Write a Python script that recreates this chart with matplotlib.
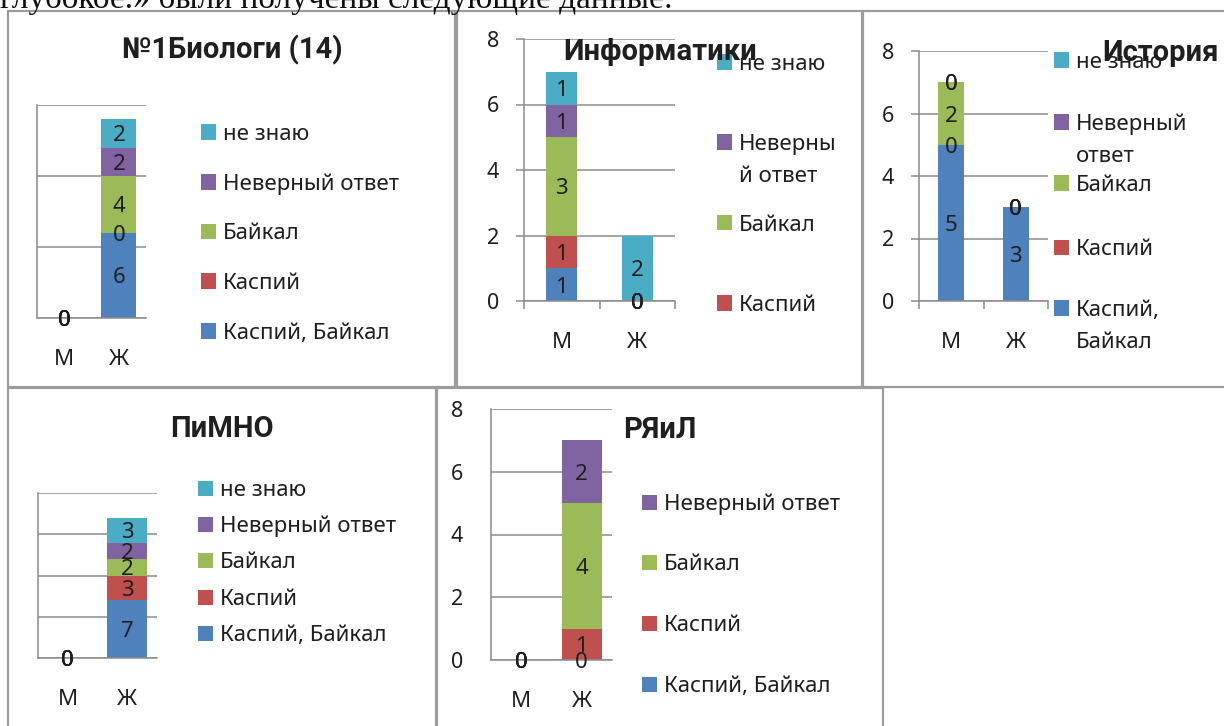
import matplotlib
matplotlib.use("Agg")
import matplotlib.pyplot as plt
from matplotlib.patches import Rectangle
import numpy as np

plt.rcParams['font.family'] = ['Noto Sans', 'DejaVu Sans']

# ---------------- data ----------------
categories = ['М', 'Ж']
series_names = ['Каспий, Байкал', 'Каспий', 'Байкал', 'Неверный ответ', 'не знаю']
series_colors = ['#4F81BD', '#C0504D', '#9BBB59', '#8064A2', '#4BACC6']

bio_values = [[0, 6], [0, 0], [0, 4], [0, 2], [0, 2]]
inf_values = [[1, 0], [1, 0], [3, 0], [1, 0], [1, 2]]
hist_values = [[5, 3], [0, 0], [2, 0], [0, 0], [0, 0]]
pimno_values = [[0, 7], [0, 3], [0, 2], [0, 2], [0, 3]]
ryal_values = [[0, 0], [0, 1], [0, 4], [0, 2]]

titles = ['№1Биологи (14)', 'Информатики', 'История', 'ПиМНО', 'РЯиЛ']
y_ticks_8 = [0, 2, 4, 6, 8]

top_line = 'глубокое.» были получены следующие данные:'

# ---------------- layout helpers ----------------
W, H = 1224, 726
fig = plt.figure(figsize=(W / 100, H / 100), dpi=100)
fig.patch.set_facecolor('white')

TXT = '#1F1F1F'
GRID = '#8C8C8C'
BORDER = '#9C9C9C'
TITLE_FONT = ['Roboto', 'Liberation Sans', 'DejaVu Sans']


def fx(x):
    return x / W


def fy(y):
    return 1 - y / H


def add_axes_px(l, t, r, b):
    return fig.add_axes([l / W, 1 - b / H, (r - l) / W, (b - t) / H])


def border(l, t, r, b):
    fig.patches.append(Rectangle((fx(l), fy(b)), (r - l) / W, (b - t) / H,
                                 transform=fig.transFigure, fill=False,
                                 edgecolor=BORDER, lw=1.6, zorder=0))


def title(x, y, s):
    fig.text(fx(x), fy(y), s, ha='center', va='center', fontsize=21,
             fontweight='bold', family=TITLE_FONT, color=TXT, zorder=7)


def legend_entry(x, y, color, lines, line_gap=32, fs=16):
    fig.patches.append(Rectangle((fx(x), fy(y + 7.5)), 15 / W, 15 / H,
                                 transform=fig.transFigure, facecolor=color,
                                 edgecolor='none', zorder=5))
    for k, s in enumerate(lines):
        fig.text(fx(x + 22), fy(y + k * line_gap), s, ha='left',
                 va='center_baseline', fontsize=fs, color=TXT, zorder=6)


def panel(rect, values, ymax, yticks, width, show_ylabels=False,
          tick_marks=False, ylabel_pad=13):
    ax = add_axes_px(*rect)
    x = np.arange(len(categories))
    bottoms = np.zeros(len(categories))
    for i, vals in enumerate(values):
        vals = np.array(vals, dtype=float)
        ax.bar(x, vals, width, bottom=bottoms, color=series_colors[i],
               edgecolor='none', zorder=2)
        for j in range(len(x)):
            ax.text(x[j], bottoms[j] + vals[j] / 2, f'{int(vals[j])}',
                    ha='center', va='center_baseline', fontsize=16, color=TXT,
                    zorder=4, clip_on=False)
        bottoms = bottoms + vals
    ax.set_xlim(-0.5, 1.5)
    ax.set_ylim(0, ymax)
    ax.set_yticks(yticks)
    ax.grid(axis='y', color=GRID, lw=1.1)
    ax.set_axisbelow(True)
    for s in ['top', 'right']:
        ax.spines[s].set_visible(False)
    ax.spines['left'].set_color(GRID)
    ax.spines['left'].set_linewidth(1.1)
    ax.spines['bottom'].set_color(GRID)
    ax.spines['bottom'].set_linewidth(1.1)
    ax.set_xticks(x, categories)
    ax.tick_params(axis='x', length=0, pad=22, labelsize=16, labelcolor=TXT)
    if tick_marks:
        ax.set_xticks([-0.5, 0.5, 1.5], minor=True)
        ax.tick_params(axis='x', which='minor', length=6, width=1.1,
                       color=GRID, direction='out')
        ax.tick_params(axis='y', length=6, width=1.1, color=GRID,
                       direction='out')
    else:
        ax.tick_params(axis='y', length=0)
    if show_ylabels:
        ax.tick_params(axis='y', labelsize=15.5, labelcolor=TXT, pad=ylabel_pad)
    else:
        ax.tick_params(axis='y', labelleft=False)
    ax.patch.set_alpha(0)
    return ax


# ---------------- top text line ----------------
fig.text(fx(0), fy(8), top_line, ha='left', va='baseline', fontsize=24,
         family=['Liberation Serif', 'DejaVu Serif'], color='#111111')

# ---------------- panel borders ----------------
border(8, 11, 455, 387)
border(457, 11, 862, 387)
border(863, 11, 1240, 387)
border(8, 388, 436, 740)
border(437, 388, 883, 740)

# ---------------- panel 1: Биологи ----------------
panel((37, 105, 146, 318), bio_values, 15, [0, 5, 10, 15], 0.64)
title(232, 50, titles[0])
leg1 = [(4, ['не знаю']), (3, ['Неверный ответ']), (2, ['Байкал']),
        (1, ['Каспий']), (0, ['Каспий, Байкал'])]
for (idx, lines), yy in zip(leg1, [132, 182, 231, 281, 331]):
    legend_entry(201, yy, series_colors[idx], lines)

# ---------------- panel 2: Информатики ----------------
panel((524, 39, 675, 301), inf_values, 8, y_ticks_8, 0.41,
      show_ylabels=True, tick_marks=True, ylabel_pad=12)
title(660, 52, titles[1])
leg2 = [(4, ['не знаю']), (3, ['Неверны', 'й ответ']), (2, ['Байкал']),
        (1, ['Каспий'])]
for (idx, lines), yy in zip(leg2, [62, 142, 223, 303]):
    legend_entry(717, yy, series_colors[idx], lines)

# ---------------- panel 3: История ----------------
panel((919, 51, 1048, 301), hist_values, 8, y_ticks_8, 0.40,
      show_ylabels=True, tick_marks=True, ylabel_pad=12)
leg3 = [(4, ['не знаю']), (3, ['Неверный', 'ответ']), (2, ['Байкал']),
        (1, ['Каспий']), (0, ['Каспий,', 'Байкал'])]
for (idx, lines), yy in zip(leg3, [60, 122, 183, 247, 308]):
    legend_entry(1054, yy, series_colors[idx], lines)
title(1160, 53, titles[2])

# ---------------- panel 4: ПиМНО ----------------
panel((38, 493, 157, 658), pimno_values, 20, [0, 5, 10, 15, 20], 0.67)
title(222, 429, titles[3])
leg4 = [(4, ['не знаю']), (3, ['Неверный ответ']), (2, ['Байкал']),
        (1, ['Каспий']), (0, ['Каспий, Байкал'])]
for (idx, lines), yy in zip(leg4, [488, 524, 560, 597, 633]):
    legend_entry(198, yy, series_colors[idx], lines)

# ---------------- panel 5: РЯиЛ ----------------
panel((491, 409, 612, 660), ryal_values, 8, y_ticks_8, 0.66,
      show_ylabels=True, tick_marks=False, ylabel_pad=20)
title(660, 430, titles[4])
leg5 = [(3, ['Неверный ответ']), (2, ['Байкал']), (1, ['Каспий']),
        (0, ['Каспий, Байкал'])]
for (idx, lines), yy in zip(leg5, [502, 562, 623, 684]):
    legend_entry(642, yy, series_colors[idx], lines)

fig.savefig('out.png', dpi=100, facecolor='white')
